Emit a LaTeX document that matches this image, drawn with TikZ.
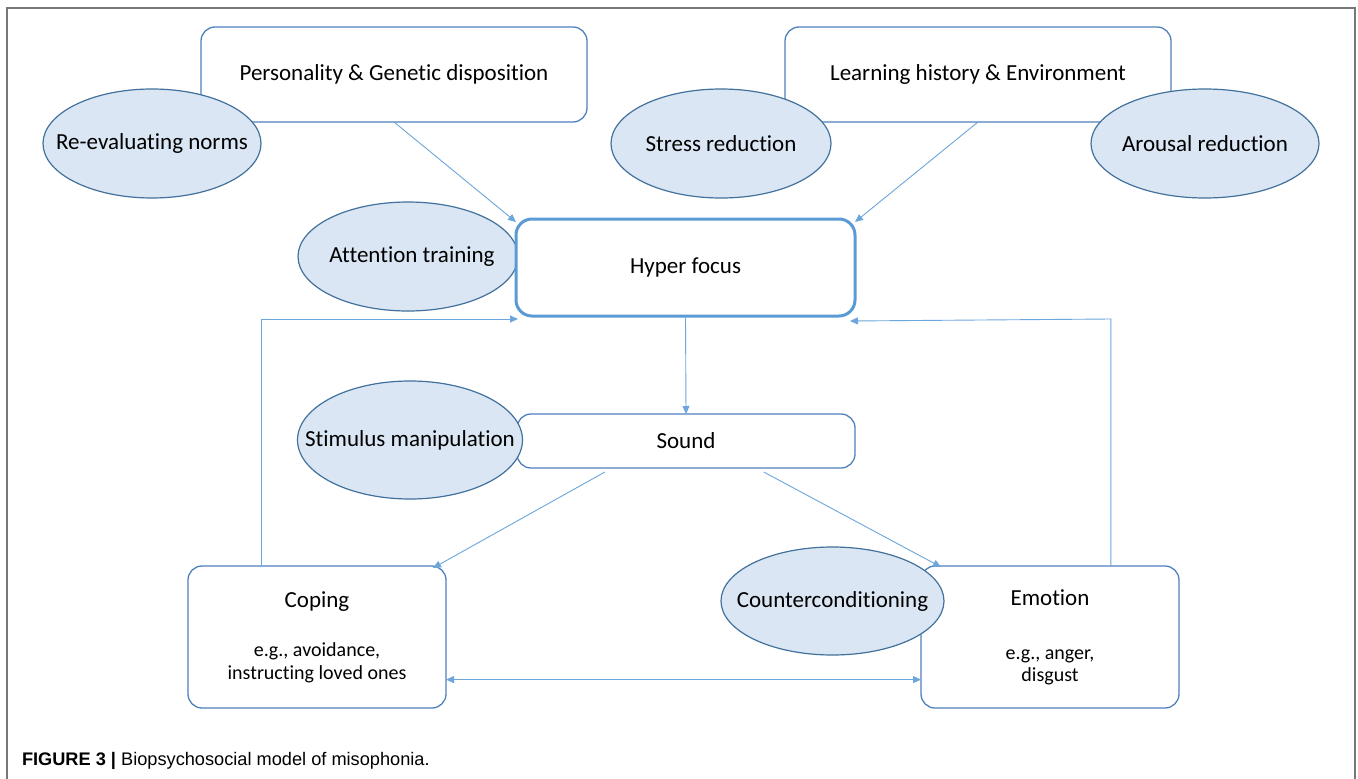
\documentclass[tikz,border=0pt]{standalone}
\usepackage{fontspec}
\setmainfont[Ligatures={NoCommon}]{Carlito}
\newfontfamily\capfont{Liberation Sans}
\usetikzlibrary{shapes.geometric,arrows.meta,calc}
\definecolor{boxline}{RGB}{79,129,189}
\definecolor{ellline}{RGB}{65,113,156}
\definecolor{ellfill}{RGB}{218,230,243}
\definecolor{arrline}{RGB}{108,166,220}
\definecolor{hyperline}{RGB}{91,155,213}
\definecolor{frameline}{RGB}{120,120,120}
\newcommand{\zw}[1]{\makebox[0pt]{#1}}
\begin{document}
\begin{tikzpicture}[x=1pt,y=-1pt,
  every node/.style={inner sep=0pt,outer sep=0pt,font=\fontsize{23}{26}\selectfont},
  rbox/.style={draw=boxline,line width=1.3pt,rounded corners=14pt,fill=white,align=center},
  oval/.style={ellipse,draw=ellline,line width=1.2pt,fill=ellfill},
  conn/.style={draw=arrline,line width=0.9pt,-{Triangle[length=8pt,width=7pt]}},
  bconn/.style={draw=arrline,line width=0.9pt,{Triangle[length=8pt,width=7pt]}-{Triangle[length=8pt,width=7pt]}}
]
\useasboundingbox (0,0) rectangle (1358,779);
\fill[white] (0,0) rectangle (1358,779);
% frame
\draw[frameline,line width=1.5pt] (7,779) -- (7,8) -- (1355,8) -- (1355,779);

% boxes
\node[rbox,minimum width=386pt,minimum height=95pt] (pers) at (394,74.5) {Personality \& Genetic disposition};
\node[rbox,minimum width=386pt,minimum height=95pt] (learn) at (978,74.5) {Learning history \& Environment};
\node[rbox,minimum width=338pt,minimum height=54pt] (sound) at (686,441) {Sound};
\node[rbox,minimum width=258pt,minimum height=142pt,font=\fontsize{20}{23}\selectfont] (coping) at (317,637) {{\fontsize{23}{23}\selectfont Coping}\\[26pt]e.g., avoidance,\\instructing loved ones};
\node[rbox,minimum width=258pt,minimum height=142pt,font=\fontsize{20}{22}\selectfont] (emotion) at (1050,637) {{\fontsize{23}{23}\selectfont Emotion}\\[32pt]e.g., anger,\\disgust};

% ellipses
\node[oval,minimum width=218pt,minimum height=109pt] (reeval) at (152,143.5) {\zw{Re-evaluating norms}};
\node[oval,minimum width=220pt,minimum height=109pt] (stress) at (721,143.5) {\zw{Stress reduction}};
\node[oval,minimum width=228pt,minimum height=109pt] (arousal) at (1205,143.5) {\zw{Arousal reduction}};
\node[oval,minimum width=220pt,minimum height=109pt] (attn) at (408,256.5) {\zw{\hspace{8pt}Attention training}};
\node[oval,minimum width=225pt,minimum height=118pt] (stim) at (410,440) {\zw{Stimulus manipulation}};
\node[oval,minimum width=223pt,minimum height=108pt] (counter) at (832.5,601) {\zw{Counterconditioning}};

% hyper focus
\node[draw=hyperline,line width=3pt,rounded corners=16pt,fill=white,minimum width=339pt,minimum height=97pt] (hyper) at (685.5,267.5) {Hyper focus};

% connector end points
\coordinate (sA) at ($(sound.south west)!0.26!(sound.south east)+(0,4)$);
\coordinate (sB) at ($(sound.south west)!0.73!(sound.south east)+(0,4)$);
\coordinate (cT) at ($(coping.north west)!0.283!(coping.north east)$);
\coordinate (eT) at ($(emotion.north west)!0.736!(emotion.north east)$);
\coordinate (cR) at ($(coping.north east)!0.8!(coping.south east)$);
\coordinate (hL) at ($(hyper.south west)+(2,3)$);
\coordinate (hR) at ($(hyper.south east)+(-5,5)$);

% connectors
\draw[conn] (pers.south) -- ($(hyper.north west)+(0,3)$);
\draw[conn] (learn.south) -- ($(hyper.north east)+(0,3)$);
\draw[conn] (hyper.south) -- (sound.north);
\draw[conn] (sA) -- ($(coping.north east)+(-13,2)$);
\draw[conn] (sB) -- ($(emotion.north west)+(20,1)$);
\draw[conn] (cT) -- (cT |- hL) -- (hL);
\draw[conn] (eT) -- (eT |- hL) -- (hR);
\draw[bconn] (cR) -- (cR -| emotion.west);

% caption
\node[anchor=base west,font=\capfont\fontsize{18.2}{21}\selectfont] (cap) at (22,765) {\textbf{FIGURE 3 |} Biopsychosocial model of misophonia.};
\end{tikzpicture}
\end{document}
